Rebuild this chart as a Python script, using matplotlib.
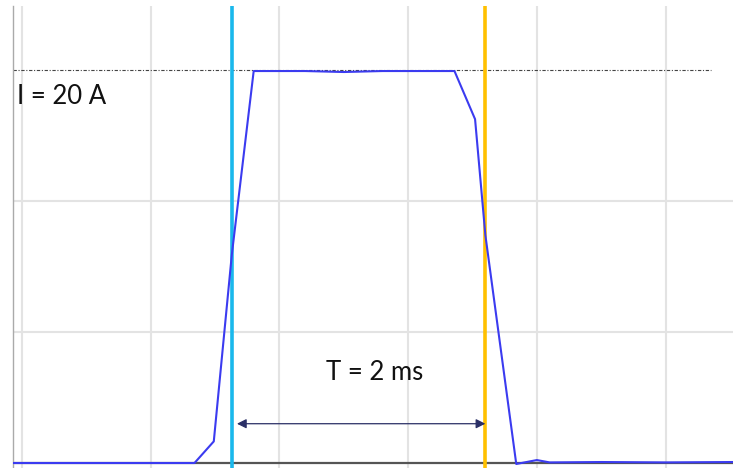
import numpy as np
import matplotlib.pyplot as plt

# ================= DATA ================= #
# time in ms, current in A
t_ms = [-0.07, 1.34, 1.49, 1.63, 1.80, 2.20, 2.50, 2.80, 3.10, 3.36,
        3.52, 3.60, 3.84, 4.00, 4.10, 4.50, 5.00, 5.52]
i_amp = [0.0, 0.0, 1.1, 10.6, 19.95, 19.95, 19.9, 19.95, 19.95, 19.95,
         17.5, 11.6, -0.05, 0.15, 0.03, 0.05, 0.03, 0.05]

I_LEVEL = 20.0
T_START = 1.63   # cyan cursor
T_END = 3.60     # orange cursor
GRID_X = [0, 1, 2, 3, 4, 5]
GRID_Y = [20 / 3, 40 / 3, 20]

LABEL_I = "I = 20 A"
LABEL_T = "T = 2 ms"

# ================= PLOT ================= #
plt.rcParams['font.family'] = ['Lato', 'DejaVu Sans']

fig = plt.figure(figsize=(7.33, 4.68), dpi=100)
ax = fig.add_axes([13 / 733, 0, 720 / 733, 462 / 468])
ax.set_xlim(-0.07, 5.524)
ax.set_ylim(-0.254, 23.26)

for x in GRID_X:
    ax.axvline(x, color="#e3e3e3", lw=1.5, zorder=0)
for y in GRID_Y[:-1]:
    ax.axhline(y, color="#e3e3e3", lw=1.5, zorder=0)

# reference level
ax.axhline(I_LEVEL, xmin=0, xmax=0.97, color="#444444", lw=0.8,
           ls=(0, (3, 1.5, 1, 1.5)), zorder=1)

# zero axis
ax.axhline(0, color="#555555", lw=1.6, zorder=1)

# cursors
ax.axvline(T_START, color="#1ab8ec", lw=2.6, zorder=2)
ax.axvline(T_END, color="#ffc000", lw=2.6, zorder=2)

# trace
ax.plot(t_ms, i_amp, color="#3b3bf0", lw=1.5, zorder=3)

# period arrow
ax.annotate("", xy=(T_START + 0.04, 2.0), xytext=(T_END, 2.0),
            arrowprops=dict(arrowstyle="<|-|>", color="#2a2f66", lw=0.9,
                            mutation_scale=14, shrinkA=0, shrinkB=0))

ax.text(-0.04, 18.65, LABEL_I, fontsize=18.5, ha="left", va="center", color="#111111")
ax.text(2.74, 4.6, LABEL_T, fontsize=18.5, ha="center", va="center", color="#111111")

for s in ["top", "right", "bottom"]:
    ax.spines[s].set_visible(False)
ax.spines["left"].set_color("#aaaaaa")
ax.spines["left"].set_linewidth(1.0)
ax.set_xticks([])
ax.set_yticks([])

fig.savefig("out.png", dpi=100)
